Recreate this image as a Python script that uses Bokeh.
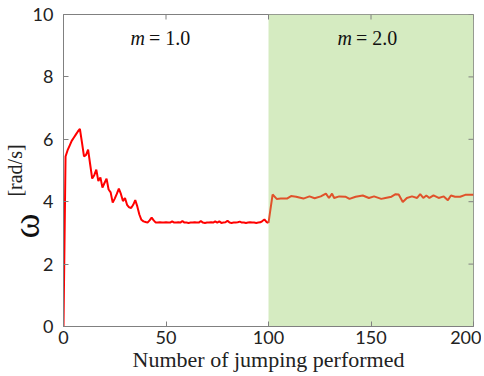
import numpy as np
from bokeh.plotting import figure
from bokeh.models import BoxAnnotation, Title, FixedTicker, Range1d
from bokeh.core.properties import value
from bokeh.embed import file_html
from bokeh.resources import INLINE

# m = 1.0 phase (jumps 0..100)
x_m1 = list(range(0, 101))
w_m1 = [0.0, 5.45, 5.65, 5.8, 5.95, 6.05, 6.15, 6.25, 6.33, 5.9,
        5.45, 5.5, 5.67, 5.2, 4.74, 4.85, 5.03, 4.66, 4.78, 4.45,
        4.6, 4.74, 4.39, 4.3, 3.97, 4.1, 4.25, 4.42, 4.25, 4.02,
        4.12, 3.9, 3.82, 3.8, 3.9, 4.05, 3.85, 3.59, 3.42, 3.37,
        3.35, 3.33, 3.4, 3.49, 3.4, 3.33, 3.33, 3.34, 3.33, 3.33,
        3.34, 3.33, 3.33, 3.37, 3.33, 3.33, 3.34, 3.33, 3.38, 3.33,
        3.33, 3.32, 3.33, 3.33, 3.34, 3.33, 3.33, 3.38, 3.33, 3.32,
        3.33, 3.33, 3.34, 3.33, 3.37, 3.33, 3.37, 3.32, 3.33, 3.34,
        3.39, 3.33, 3.32, 3.33, 3.33, 3.34, 3.36, 3.33, 3.33, 3.32,
        3.33, 3.34, 3.33, 3.33, 3.32, 3.33, 3.34, 3.38, 3.43, 3.35,
        3.32]

# m = 2.0 phase (jumps 100..200)
x_m2 = [100, 102, 104, 106, 109, 111, 113.5, 117, 120, 122.5,
        125.5, 128, 129.5, 131, 132, 134.5, 137.5, 139.5, 142.5, 146,
        149, 151.5, 155, 157, 160, 162, 163.5, 165.5, 167.5, 170,
        172.5, 174, 175.5, 177, 178.5, 180.5, 183, 185.5, 187.5, 189,
        191, 193.5, 196, 199.5, 200]
w_m2 = [3.32, 4.23, 4.09, 4.1, 4.1, 4.18, 4.16, 4.1, 4.17, 4.11,
        4.17, 4.26, 4.12, 4.26, 4.12, 4.17, 4.16, 4.09, 4.16, 4.2,
        4.12, 4.17, 4.09, 4.12, 4.16, 4.24, 4.23, 3.99, 4.12, 4.17,
        4.12, 4.24, 4.12, 4.2, 4.12, 4.2, 4.12, 4.17, 4.05, 4.2,
        4.16, 4.16, 4.22, 4.22, 4.22]

x_ticks = [0, 50, 100, 150, 200]
y_ticks = [0, 2, 4, 6, 8, 10]
phase_labels = ["= 1.0", "= 2.0"]
phase_centers = [49, 150]
phase_label_y = [9.26, 9.26]

X_MIN, X_MAX, Y_MIN, Y_MAX = 0, 200, 0, 10
GRAY = "#808080"
SERIF = "Liberation Serif"
TICK_FONT = "Lato"

p = figure(frame_width=410, frame_height=312, output_backend="svg",
           toolbar_location=None, x_range=Range1d(X_MIN, X_MAX),
           y_range=Range1d(Y_MIN, Y_MAX),
           min_border_left=63, min_border_right=8, min_border_top=14,
           min_border_bottom=44)
p.grid.visible = False
p.outline_line_color = GRAY
p.background_fill_color = "white"

p.add_layout(BoxAnnotation(left=100, right=200, fill_color="#d5ebc1",
                           fill_alpha=1.0, line_color=None, level="underlay"))

p.line(x_m1, w_m1, line_color="#ff0000", line_width=2)
p.line(x_m2, w_m2, line_color="#e0522b", line_width=2)

# mirrored inward ticks on the top and right edges
p.ray(x=x_ticks, y=[Y_MAX] * len(x_ticks), length=5, length_units="screen",
      angle=-np.pi / 2, line_color=GRAY, line_width=1)
p.ray(x=[X_MAX] * len(y_ticks), y=y_ticks, length=5, length_units="screen",
      angle=np.pi, line_color=GRAY, line_width=1)

# phase labels: italic m and the rest in normal style
p.text(x=phase_centers, y=phase_label_y, text=["m", "m"], text_font=value(SERIF),
       text_font_style="italic", text_font_size="20px", text_align="right",
       text_baseline="middle", x_offset=-19, text_color="#111111")
p.text(x=phase_centers, y=phase_label_y, text=phase_labels, text_font=value(SERIF),
       text_font_size="20px", text_align="left", text_baseline="middle",
       x_offset=-15, text_color="#111111")

for ax in (p.xaxis[0], p.yaxis[0]):
    ax.axis_line_color = GRAY
    ax.major_tick_line_color = GRAY
    ax.major_tick_in = 5
    ax.major_tick_out = 0
    ax.minor_tick_line_color = None
    ax.major_label_text_font = TICK_FONT
    ax.major_label_text_font_size = "18px"
    ax.major_label_text_color = "#222222"
p.xaxis[0].ticker = FixedTicker(ticks=x_ticks)
p.yaxis[0].ticker = FixedTicker(ticks=y_ticks)
p.xaxis[0].major_label_standoff = 4
p.yaxis[0].major_label_standoff = 10
p.xaxis[0].axis_label = "Number of jumping performed"
p.xaxis[0].axis_label_text_font = SERIF
p.xaxis[0].axis_label_text_font_style = "normal"
p.xaxis[0].axis_label_text_font_size = "22px"
p.xaxis[0].axis_label_text_color = "#222222"
p.xaxis[0].axis_label_standoff = 0

p.yaxis[0].axis_label = "[rad/s]"
p.yaxis[0].axis_label_text_font = SERIF
p.yaxis[0].axis_label_text_font_style = "normal"
p.yaxis[0].axis_label_text_font_size = "20px"
p.yaxis[0].axis_label_text_color = "#222222"
p.yaxis[0].axis_label_standoff = 4

p.add_layout(Title(text="ω", align="left", offset=88, vertical_align="bottom",
                   standoff=-92, text_font=SERIF, text_font_size="38px",
                   text_font_style="normal", text_color="#111111"), "left")

open("out.html", "w").write(file_html(p, INLINE))
